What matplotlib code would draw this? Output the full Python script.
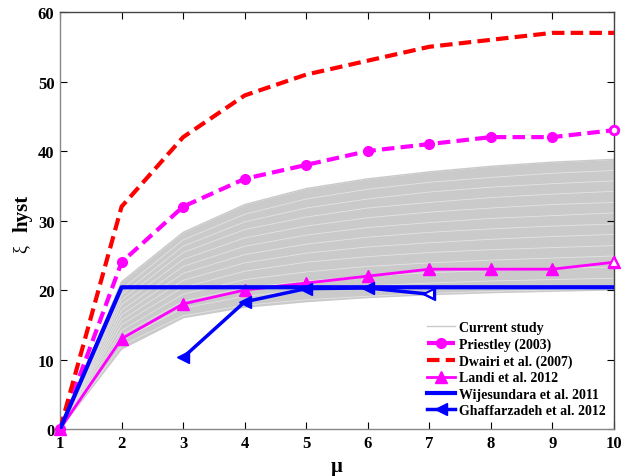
import matplotlib
matplotlib.use("Agg")
import matplotlib.pyplot as plt

mu = [1, 2, 3, 4, 5, 6, 7, 8, 9, 10]

# envelope of the "current study" curves
study_low = [0, 11.5, 16.0, 17.5, 18.3, 18.9, 19.3, 19.6, 19.8, 20.0]
study_high = [0, 21.2, 28.3, 32.3, 34.6, 36.0, 37.0, 37.8, 38.4, 38.8]

# a few of the individual study curves (lighter streaks inside the band)
study_curves = [
    [0, 12.0, 16.3, 17.8, 18.6, 19.1, 19.5, 19.8, 20.0, 20.2],
    [0, 12.8, 17.4, 19.1, 20.0, 20.6, 21.0, 21.3, 21.5, 21.7],
    [0, 13.5, 18.4, 20.3, 21.3, 22.0, 22.5, 22.8, 23.1, 23.3],
    [0, 14.2, 19.4, 21.5, 22.6, 23.4, 23.9, 24.3, 24.6, 24.9],
    [0, 15.0, 20.4, 22.7, 24.0, 24.8, 25.4, 25.8, 26.1, 26.4],
    [0, 15.7, 21.4, 23.9, 25.3, 26.2, 26.8, 27.3, 27.7, 28.0],
    [0, 16.4, 22.4, 25.1, 26.6, 27.6, 28.3, 28.8, 29.2, 29.5],
    [0, 17.1, 23.4, 26.3, 27.9, 29.0, 29.7, 30.3, 30.7, 31.1],
    [0, 17.9, 24.4, 27.5, 29.2, 30.4, 31.2, 31.8, 32.3, 32.6],
    [0, 18.6, 25.4, 28.7, 30.5, 31.8, 32.6, 33.3, 33.8, 34.2],
    [0, 19.3, 26.3, 29.8, 31.8, 33.1, 34.1, 34.8, 35.3, 35.7],
    [0, 20.1, 27.2, 30.9, 33.1, 34.5, 35.5, 36.2, 36.8, 37.2],
]

priestley = [0, 24, 32, 36, 38, 40, 41, 42, 42, 43]
dwairi = [0, 32, 42, 48, 51, 53, 55, 56, 57, 57]
landi = [0, 13, 18, 20, 21, 22, 23, 23, 23, 24]
wijesundara = [0, 20.4, 20.4, 20.4, 20.4, 20.4, 20.4, 20.4, 20.4, 20.4]
mu_ghaf = [3, 4, 5, 6, 7]
ghaffarzadeh = [10.3, 18.3, 20.2, 20.3, 19.4]

plt.rcParams['font.family'] = 'Liberation Serif'
plt.rcParams['font.weight'] = 'bold'

fig = plt.figure(figsize=(6.32, 4.77), dpi=100)
ax = fig.add_axes([0.095, 0.0985, 0.8765, 0.8742])

ax.fill_between(mu, study_low, study_high, color='#cacaca', lw=0, zorder=1)
for c in study_curves:
    ax.plot(mu, c, color='#e4e4e4', lw=0.6, zorder=1.5)
ax.plot(mu, study_high, color='#cacaca', lw=1, zorder=1.5, label='Current study')

ax.plot(mu, priestley, color='#ff00ff', ls='--', lw=3, marker='o', ms=7,
        dashes=(3, 1.5), label='Priestley (2003)', zorder=3, clip_on=False)
ax.plot(mu[-1:], priestley[-1:], ls='none', marker='o', ms=6, mfc='white',
        mec='#ff00ff', mew=2, zorder=4, clip_on=False)
ax.plot(mu, dwairi, color='#ff0000', ls='--', lw=3, dashes=(3, 1.5),
        label='Dwairi et al. (2007)', zorder=3)
ax.plot(mu, landi, color='#ff00ff', lw=2, marker='^', ms=8,
        label='Landi et al. 2012', zorder=3, clip_on=False)
ax.plot(mu[-1:], landi[-1:], ls='none', marker='^', ms=7, mfc='white',
        mec='#ff00ff', mew=1.5, zorder=4, clip_on=False)
ax.plot(mu, wijesundara, color='#0000ff', lw=3,
        label='Wijesundara et al. 2011', zorder=3)
ax.plot(mu_ghaf, ghaffarzadeh, color='#0000ff', lw=2.5, marker='<', ms=8,
        label='Ghaffarzadeh et al. 2012', zorder=3.5)
ax.plot(mu_ghaf[-1:], ghaffarzadeh[-1:], ls='none', marker='<', ms=7,
        mfc='white', mec='#0000ff', mew=1.5, zorder=4)

ax.set_xlim(1, 10)
ax.set_ylim(0, 60)
ax.set_xticks(mu)
ax.set_yticks(range(0, 61, 10))
ax.tick_params(direction='in', top=True, right=True, labelsize=12, length=5,
               pad=4)
for lab in ax.get_xticklabels() + ax.get_yticklabels():
    lab.set_fontweight('bold')
for s in ax.spines.values():
    s.set_color('#444444')
    s.set_linewidth(1)
ax.spines['left'].set_color('#888888')
ax.spines['bottom'].set_color('#888888')

ax.set_xlabel('μ', fontsize=15, fontweight='bold', labelpad=4)
fig.text(0.033, 0.478, 'ξ', rotation=90, fontsize=13, fontweight='normal',
         ha='center', va='center')
fig.text(0.036, 0.553, 'hyst', rotation=90, fontsize=15, fontweight='bold',
         ha='center', va='center')

ax.legend(loc='lower left', bbox_to_anchor=(0.6625, 0.028), frameon=False,
          prop={'family': 'Liberation Serif', 'weight': 'bold', 'size': 10},
          handlelength=2.0, handletextpad=0.3, labelspacing=0.25,
          borderpad=0, borderaxespad=0, numpoints=1)

fig.savefig('out.png', dpi=100)
